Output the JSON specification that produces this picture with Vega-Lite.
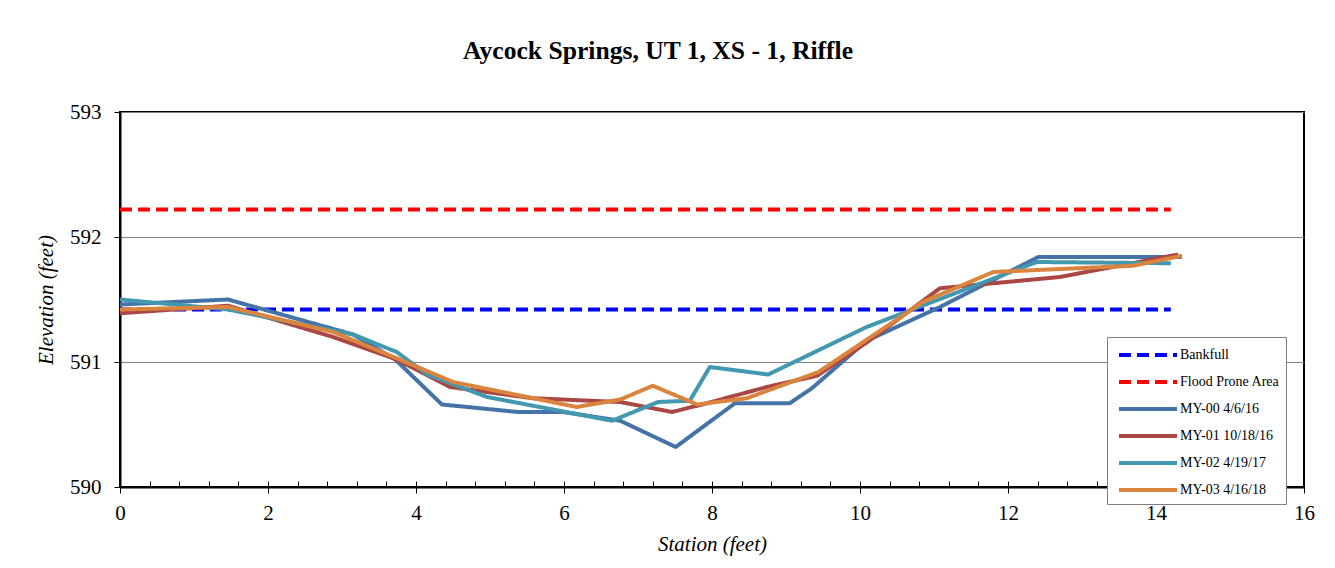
{
  "$schema": "https://vega.github.io/schema/vega-lite/v6.json",
  "width": 1184,
  "height": 375,
  "autosize": {"type": "none"},
  "padding": {"left": 120, "top": 112, "right": 31, "bottom": 81},
  "background": "white",
  "title": {
    "text": "Aycock Springs, UT 1, XS - 1, Riffle",
    "font": "Liberation Serif",
    "fontSize": 25.6,
    "fontWeight": "bold",
    "color": "black",
    "anchor": "middle",
    "dx": -54,
    "offset": 36
  },
  "config": {
    "view": {"stroke": "black", "strokeWidth": 2},
    "font": "Liberation Serif",
    "legend": {
      "orient": "none",
      "legendX": 987,
      "legendY": 225,
      "fillColor": "white",
      "strokeColor": "#7f7f7f",
      "strokeWidth": 1,
      "padding": 6,
      "rowPadding": 7,
      "labelFont": "Liberation Serif",
      "labelFontSize": 14,
      "labelColor": "black",
      "symbolType": "M-1,0H4.8",
      "symbolSize": 400,
      "symbolStrokeWidth": 4,
      "symbolOffset": 4,
      "labelOffset": 39,
      "title": null
    }
  },
  "data": {
    "values": [
      {"series": "Bankfull", "station": 0, "elev": 591.42},
      {"series": "Bankfull", "station": 14.2, "elev": 591.42},
      {"series": "Flood Prone Area", "station": 0, "elev": 592.22},
      {"series": "Flood Prone Area", "station": 14.2, "elev": 592.22},
      {"series": "MY-00 4/6/16", "station": 0, "elev": 591.46},
      {"series": "MY-00 4/6/16", "station": 1.46, "elev": 591.5},
      {"series": "MY-00 4/6/16", "station": 3.15, "elev": 591.22},
      {"series": "MY-00 4/6/16", "station": 3.72, "elev": 591.02},
      {"series": "MY-00 4/6/16", "station": 4.35, "elev": 590.66},
      {"series": "MY-00 4/6/16", "station": 5.38, "elev": 590.6},
      {"series": "MY-00 4/6/16", "station": 5.99, "elev": 590.6},
      {"series": "MY-00 4/6/16", "station": 6.76, "elev": 590.53},
      {"series": "MY-00 4/6/16", "station": 7.51, "elev": 590.32},
      {"series": "MY-00 4/6/16", "station": 8.31, "elev": 590.67},
      {"series": "MY-00 4/6/16", "station": 9.05, "elev": 590.67},
      {"series": "MY-00 4/6/16", "station": 9.35, "elev": 590.79},
      {"series": "MY-00 4/6/16", "station": 10.09, "elev": 591.17},
      {"series": "MY-00 4/6/16", "station": 11.08, "elev": 591.44},
      {"series": "MY-00 4/6/16", "station": 12.41, "elev": 591.84},
      {"series": "MY-00 4/6/16", "station": 14.35, "elev": 591.84},
      {"series": "MY-01 10/18/16", "station": 0, "elev": 591.39},
      {"series": "MY-01 10/18/16", "station": 1.46, "elev": 591.45},
      {"series": "MY-01 10/18/16", "station": 2.88, "elev": 591.2},
      {"series": "MY-01 10/18/16", "station": 3.74, "elev": 591.02},
      {"series": "MY-01 10/18/16", "station": 4.46, "elev": 590.8},
      {"series": "MY-01 10/18/16", "station": 5.58, "elev": 590.71},
      {"series": "MY-01 10/18/16", "station": 6.76, "elev": 590.68},
      {"series": "MY-01 10/18/16", "station": 7.46, "elev": 590.6},
      {"series": "MY-01 10/18/16", "station": 7.93, "elev": 590.67},
      {"series": "MY-01 10/18/16", "station": 8.74, "elev": 590.8},
      {"series": "MY-01 10/18/16", "station": 9.42, "elev": 590.89},
      {"series": "MY-01 10/18/16", "station": 10.1, "elev": 591.16},
      {"series": "MY-01 10/18/16", "station": 11.08, "elev": 591.59},
      {"series": "MY-01 10/18/16", "station": 12.7, "elev": 591.68},
      {"series": "MY-01 10/18/16", "station": 14.3, "elev": 591.86},
      {"series": "MY-02 4/19/17", "station": 0, "elev": 591.5},
      {"series": "MY-02 4/19/17", "station": 1.46, "elev": 591.42},
      {"series": "MY-02 4/19/17", "station": 3.15, "elev": 591.22},
      {"series": "MY-02 4/19/17", "station": 3.74, "elev": 591.08},
      {"series": "MY-02 4/19/17", "station": 4.15, "elev": 590.9},
      {"series": "MY-02 4/19/17", "station": 4.96, "elev": 590.72},
      {"series": "MY-02 4/19/17", "station": 6.65, "elev": 590.53},
      {"series": "MY-02 4/19/17", "station": 7.27, "elev": 590.68},
      {"series": "MY-02 4/19/17", "station": 7.7, "elev": 590.69},
      {"series": "MY-02 4/19/17", "station": 7.97, "elev": 590.96},
      {"series": "MY-02 4/19/17", "station": 8.76, "elev": 590.9},
      {"series": "MY-02 4/19/17", "station": 10.09, "elev": 591.28},
      {"series": "MY-02 4/19/17", "station": 12.39, "elev": 591.8},
      {"series": "MY-02 4/19/17", "station": 14.2, "elev": 591.79},
      {"series": "MY-03 4/16/18", "station": 0, "elev": 591.42},
      {"series": "MY-03 4/16/18", "station": 1.46, "elev": 591.44},
      {"series": "MY-03 4/16/18", "station": 2.88, "elev": 591.24},
      {"series": "MY-03 4/16/18", "station": 3.74, "elev": 591.03},
      {"series": "MY-03 4/16/18", "station": 4.5, "elev": 590.84},
      {"series": "MY-03 4/16/18", "station": 6.17, "elev": 590.64},
      {"series": "MY-03 4/16/18", "station": 6.76, "elev": 590.7},
      {"series": "MY-03 4/16/18", "station": 7.2, "elev": 590.81},
      {"series": "MY-03 4/16/18", "station": 7.8, "elev": 590.66},
      {"series": "MY-03 4/16/18", "station": 8.47, "elev": 590.71},
      {"series": "MY-03 4/16/18", "station": 9.44, "elev": 590.92},
      {"series": "MY-03 4/16/18", "station": 10.85, "elev": 591.48},
      {"series": "MY-03 4/16/18", "station": 11.8, "elev": 591.72},
      {"series": "MY-03 4/16/18", "station": 13.69, "elev": 591.77},
      {"series": "MY-03 4/16/18", "station": 14.35, "elev": 591.85}
    ]
  },
  "layer": [
    {
      "mark": {"type": "point", "opacity": 0},
      "encoding": {
        "x": {
          "field": "station",
          "type": "quantitative",
          "scale": {"domain": [0, 16], "nice": false, "zero": false},
          "axis": {
            "orient": "bottom",
            "values": [0, 0.4, 0.8, 1.2, 1.6, 2, 2.4, 2.8, 3.2, 3.6, 4, 4.4, 4.8, 5.2, 5.6, 6, 6.4, 6.8, 7.2, 7.6, 8, 8.4, 8.8, 9.2, 9.6, 10, 10.4, 10.8, 11.2, 11.6, 12, 12.4, 12.8, 13.2, 13.6, 14, 14.4, 14.8, 15.2, 15.6, 16],
            "labels": false,
            "domain": false,
            "grid": false,
            "title": null,
            "tickSize": -6,
            "tickColor": "black",
            "minExtent": 0,
            "maxExtent": 0
          }
        },
        "y": {
          "field": "elev",
          "type": "quantitative",
          "scale": {"domain": [590, 593], "nice": false, "zero": false},
          "axis": {
            "values": [590, 591, 592, 593],
            "format": "d",
            "title": "Elevation (feet)",
            "titleFont": "Liberation Serif",
            "titleFontSize": 21,
            "titleFontStyle": "italic",
            "titleFontWeight": "normal",
            "titleColor": "black",
            "titlePadding": 13,
            "labelFont": "Liberation Serif",
            "labelFontSize": 21,
            "labelColor": "black",
            "labelPadding": 13,
            "labelFlush": false,
            "tickSize": 6,
            "tickColor": "black",
            "domainColor": "black",
            "domainWidth": 2,
            "grid": true,
            "gridColor": "#808080",
            "gridWidth": 1
          }
        }
      }
    },
    {
      "mark": {"type": "line", "strokeWidth": 4, "strokeJoin": "round"},
      "encoding": {
        "x": {
          "field": "station",
          "type": "quantitative",
          "axis": {
            "orient": "bottom",
            "values": [0, 2, 4, 6, 8, 10, 12, 14, 16],
            "title": "Station (feet)",
            "titleFont": "Liberation Serif",
            "titleFontSize": 21,
            "titleFontStyle": "italic",
            "titleFontWeight": "normal",
            "titleColor": "black",
            "titlePadding": 10,
            "labelFont": "Liberation Serif",
            "labelFontSize": 21,
            "labelColor": "black",
            "labelPadding": 9,
            "labelFlush": false,
            "tickSize": 6,
            "tickColor": "black",
            "domainColor": "black",
            "domainWidth": 2,
            "grid": false
          }
        },
        "y": {
          "field": "elev",
          "type": "quantitative",
          "axis": {
            "values": [590, 591, 592, 593],
            "format": "d",
            "title": "Elevation (feet)",
            "titleFont": "Liberation Serif",
            "titleFontSize": 21,
            "titleFontStyle": "italic",
            "titleFontWeight": "normal",
            "titleColor": "black",
            "titlePadding": 13,
            "labelFont": "Liberation Serif",
            "labelFontSize": 21,
            "labelColor": "black",
            "labelPadding": 13,
            "labelFlush": false,
            "tickSize": 6,
            "tickColor": "black",
            "domainColor": "black",
            "domainWidth": 2,
            "grid": true,
            "gridColor": "#808080",
            "gridWidth": 1
          }
        },
        "color": {
          "field": "series",
          "type": "nominal",
          "scale": {
            "domain": ["Bankfull", "Flood Prone Area", "MY-00 4/6/16", "MY-01 10/18/16", "MY-02 4/19/17", "MY-03 4/16/18"],
            "range": ["#0000FF", "#FF0000", "#4572A7", "#AA4643", "#4198AF", "#DB843D"]
          },
          "legend": {"title": null}
        },
        "strokeDash": {
          "field": "series",
          "type": "nominal",
          "scale": {
            "domain": ["Bankfull", "Flood Prone Area", "MY-00 4/6/16", "MY-01 10/18/16", "MY-02 4/19/17", "MY-03 4/16/18"],
            "range": [[12, 6], [12, 6], [1, 0], [1, 0], [1, 0], [1, 0]]
          },
          "legend": {"title": null}
        }
      }
    }
  ],
  "resolve": {"axis": {"x": "independent"}}
}
